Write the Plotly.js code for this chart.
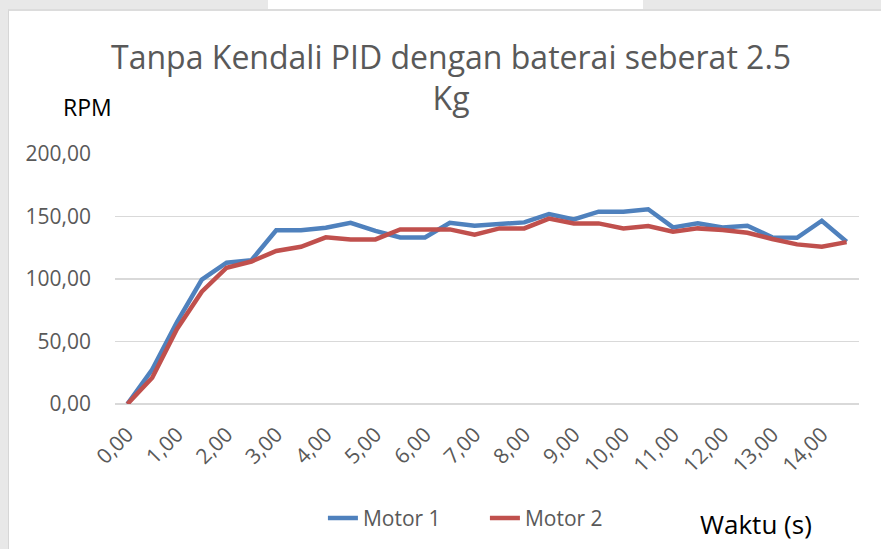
<!DOCTYPE html>
<html>
<head>
<meta charset="utf-8">
<script src="https://cdn.plot.ly/plotly-3.0.1.min.js"></script>
<style>
  html, body { margin: 0; padding: 0; width: 881px; height: 549px; overflow: hidden; background: #e8e8e8; }
  #strip { position: absolute; left: 268px; top: 0; width: 375px; height: 12px; background: #ffffff; }
  #card { position: absolute; left: 8px; top: 9px; width: 880px; height: 545px; background: #ffffff;
          border-left: 1px solid #d6d6d6; border-top: 2px solid #dcdcdc; box-sizing: border-box; }
  #chart { position: absolute; left: 9px; top: 11px; width: 872px; height: 538px; }
</style>
</head>
<body>
<div id="strip"></div>
<div id="card"></div>
<div id="chart"></div>
<script>
// Time in seconds (category positions)
const waktu = [0, 0.5, 1, 1.5, 2, 2.5, 3, 3.5, 4, 4.5, 5, 5.5, 6, 6.5, 7, 7.5,
               8, 8.5, 9, 9.5, 10, 10.5, 11, 11.5, 12, 12.5, 13, 13.5, 14, 14.5];
// RPM values
const motor1 = [0, 27.5, 65.5, 99.5, 113, 115, 139, 139, 141, 145, 138.5, 133.3, 133.3, 145, 142.7, 143.7,
                145.3, 152, 147.7, 153.9, 153.9, 155.8, 141.3, 144.5, 141.3, 142.6, 133.3, 133, 146.6, 129.8];
const motor2 = [0, 21, 60, 89.8, 109, 114, 122.4, 125.8, 133.3, 131.7, 131.7, 139.7, 139.7, 139.7, 135.5, 140.5,
                140.5, 148.3, 144.5, 144.5, 140.5, 142.4, 137.8, 140.5, 139.2, 137, 132, 127.7, 125.8, 129.5];
const xTickVals = [0, 1, 2, 3, 4, 5, 6, 7, 8, 9, 10, 11, 12, 13, 14];
const xTickText = ['0,00', '1,00', '2,00', '3,00', '4,00', '5,00', '6,00', '7,00', '8,00', '9,00',
                   '10,00', '11,00', '12,00', '13,00', '14,00'];
const yTickVals = [0, 50, 100, 150, 200];
const yTickText = ['0,00', '50,00', '100,00', '150,00', '200,00'];

const FONT = 'Open Sans, sans-serif';
const GRAY = '#595959';

const traces = [
  { x: waktu, y: motor1, name: 'Motor 1', type: 'scatter', mode: 'lines',
    line: { color: '#4F81BD', width: 4.5 } },
  { x: waktu, y: motor2, name: 'Motor 2', type: 'scatter', mode: 'lines',
    line: { color: '#C0504D', width: 4.5 } }
];

const layout = {
  width: 872, height: 538,
  margin: { l: 106, r: 22, t: 143, b: 145 },
  paper_bgcolor: 'rgba(0,0,0,0)',
  plot_bgcolor: 'rgba(0,0,0,0)',
  font: { family: FONT, color: GRAY, size: 21 },
  title: {
    text: 'Tanpa Kendali PID dengan baterai seberat 2.5<br>Kg',
    font: { family: FONT, size: 32, color: GRAY },
    x: 0.507, xanchor: 'center', xref: 'container',
    y: 0.893, yanchor: 'top', yref: 'container'
  },
  xaxis: {
    range: [-0.25, 14.75],
    tickmode: 'array', tickvals: xTickVals, ticktext: xTickText,
    tickangle: -45, ticks: '', showgrid: false, zeroline: false,
    showline: false, ticklabelstandoff: 13,
    tickfont: { family: FONT, size: 21, color: GRAY }
  },
  yaxis: {
    range: [0, 200],
    tickmode: 'array', tickvals: yTickVals, ticktext: yTickText,
    ticks: '', showgrid: true, gridcolor: '#d9d9d9', gridwidth: 1.5,
    zeroline: true, zerolinecolor: '#d9d9d9', zerolinewidth: 1.5,
    showline: false, ticklabelstandoff: 23,
    tickfont: { family: FONT, size: 21, color: GRAY }
  },
  showlegend: true,
  legend: {
    orientation: 'h', x: 0.36, xanchor: 'left', xref: 'container',
    y: 0.057, yanchor: 'middle', yref: 'container',
    entrywidth: 117, entrywidthmode: 'pixels',
    font: { family: FONT, size: 21, color: GRAY },
    bgcolor: 'rgba(0,0,0,0)'
  },
  annotations: [
    { text: 'RPM', xref: 'paper', yref: 'paper', x: -0.037, y: 1.19, showarrow: false,
      xanchor: 'center', yanchor: 'middle', font: { family: FONT, size: 23, color: '#000000' } },
    { text: 'Waktu (s)', xref: 'paper', yref: 'paper', x: 0.862, y: -0.48, showarrow: false,
      xanchor: 'center', yanchor: 'middle', font: { family: FONT, size: 26, color: '#000000' } }
  ]
};

Plotly.newPlot('chart', traces, layout, { displayModeBar: false, staticPlot: true });
</script>
</body>
</html>
